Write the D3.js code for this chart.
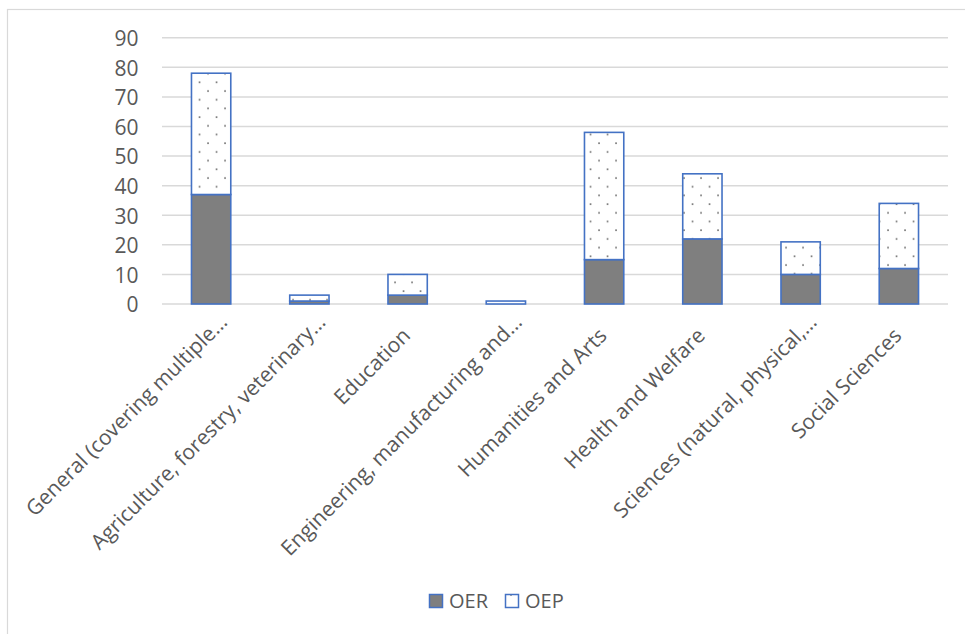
<!DOCTYPE html>
<html>
<head>
<meta charset="utf-8">
<script src="https://cdn.jsdelivr.net/npm/d3@7/dist/d3.min.js"></script>
<style>
  html, body { margin: 0; padding: 0; background: #fff; }
  svg { display: block; font-family: "Open Sans", "DejaVu Sans", sans-serif; }
</style>
</head>
<body>
<svg id="chart" width="965" height="634"></svg>
<script>
// Subject areas shown on the category axis
const categories = [
  "General (covering multiple…",
  "Agriculture, forestry, veterinary…",
  "Education",
  "Engineering, manufacturing and…",
  "Humanities and Arts",
  "Health and Welfare",
  "Sciences (natural, physical,…",
  "Social Sciences"
];
// Counts per subject area
const oerValues = [37, 1, 3, 0, 15, 22, 10, 12];
const oepValues = [41, 2, 7, 1, 43, 22, 11, 22];
const seriesNames = ["OER", "OEP"];
const yTicks = [0, 10, 20, 30, 40, 50, 60, 70, 80, 90];

const W = 965, H = 634;
const svg = d3.select("#chart");

const outline = "#4472c4";
const grid = "#d9d9d9";
const textColor = "#595959";

// dotted fill used for the OEP series
const defs = svg.append("defs");
const pat = defs.append("pattern")
  .attr("id", "dots")
  .attr("patternUnits", "userSpaceOnUse")
  .attr("width", 17).attr("height", 17.4);
pat.append("rect").attr("width", 17).attr("height", 17.4).attr("fill", "#fff");
pat.append("rect").attr("x", 3.2).attr("y", 3.2).attr("width", 1.7).attr("height", 1.7).attr("fill", "#7a7a7a");
pat.append("rect").attr("x", 11.7).attr("y", 11.9).attr("width", 1.7).attr("height", 1.7).attr("fill", "#7a7a7a");

const legendPat = defs.append("pattern")
  .attr("id", "dotsLegend")
  .attr("patternUnits", "userSpaceOnUse")
  .attr("width", 14).attr("height", 14);
legendPat.append("rect").attr("width", 14).attr("height", 14).attr("fill", "#fff");
legendPat.append("rect").attr("x", 6.2).attr("y", 6.2).attr("width", 1.6).attr("height", 1.6).attr("fill", "#7a7a7a");

// background and chart-area frame
svg.append("rect").attr("width", W).attr("height", H).attr("fill", "#fff");
svg.append("rect")
  .attr("x", 7.5).attr("y", 9.5)
  .attr("width", 1200).attr("height", 900)
  .attr("fill", "none").attr("stroke", grid).attr("stroke-width", 1.2);

const plot = { left: 162, right: 948, top: 37.7, bottom: 304 };

const x = d3.scaleBand()
  .domain(categories)
  .range([plot.left, plot.right])
  .paddingInner(0.6)
  .paddingOuter(0.3);

const y = d3.scaleLinear()
  .domain([0, 90])
  .range([plot.bottom, plot.top]);

// gridlines
svg.append("g").selectAll("line")
  .data(yTicks)
  .join("line")
  .attr("x1", plot.left).attr("x2", plot.right)
  .attr("y1", d => y(d)).attr("y2", d => y(d))
  .attr("stroke", grid).attr("stroke-width", 1.5);

// value axis labels
const yAxis = d3.axisLeft(y).tickValues(yTicks).tickSize(0).tickPadding(0);
const yg = svg.append("g")
  .attr("transform", `translate(${138.5},0)`)
  .call(yAxis);
yg.select(".domain").remove();
yg.selectAll("text")
  .attr("font-family", "Open Sans")
  .attr("font-size", 21)
  .attr("fill", textColor)
  .attr("dy", "0.37em");

// stacked bars
const rows = categories.map((c, i) => ({ cat: c, OER: oerValues[i], OEP: oepValues[i] }));
const stacked = d3.stack().keys(seriesNames)(rows);
const fills = { OER: "#7f7f7f", OEP: "url(#dots)" };

stacked.forEach(layer => {
  svg.append("g").selectAll("rect")
    .data(layer.filter(d => d[1] - d[0] > 0))
    .join("rect")
    .attr("x", d => x(d.data.cat))
    .attr("width", x.bandwidth())
    .attr("y", d => y(d[1]))
    .attr("height", d => y(d[0]) - y(d[1]))
    .attr("fill", fills[layer.key])
    .attr("stroke", outline)
    .attr("stroke-width", 1.6);
});

// category labels, rotated; truncated labels sit further along their baseline
const labelG = svg.append("g");
categories.forEach(c => {
  const cx = x(c) + x.bandwidth() / 2;
  const shift = c.endsWith("…") ? 19 : 0;
  const k = Math.SQRT1_2;
  labelG.append("text")
    .attr("transform", `translate(${cx + 4 + shift * k},${337 - shift * k}) rotate(-45)`)
    .attr("text-anchor", "end")
    .attr("font-size", 21)
    .attr("fill", textColor)
    .text(c);
});

// legend
const legendItems = [
  { name: "OER", fill: "#7f7f7f", x: 429 },
  { name: "OEP", fill: "url(#dotsLegend)", x: 505 }
];
const lg = svg.append("g");
legendItems.forEach(it => {
  lg.append("rect")
    .attr("x", it.x + 0.5).attr("y", 594.5)
    .attr("width", 13).attr("height", 13)
    .attr("fill", it.fill)
    .attr("stroke", outline).attr("stroke-width", 1.5);
  lg.append("text")
    .attr("x", it.x + 20).attr("y", 608)
    .attr("font-size", 20)
    .attr("fill", textColor)
    .text(it.name);
});
</script>
</body>
</html>
